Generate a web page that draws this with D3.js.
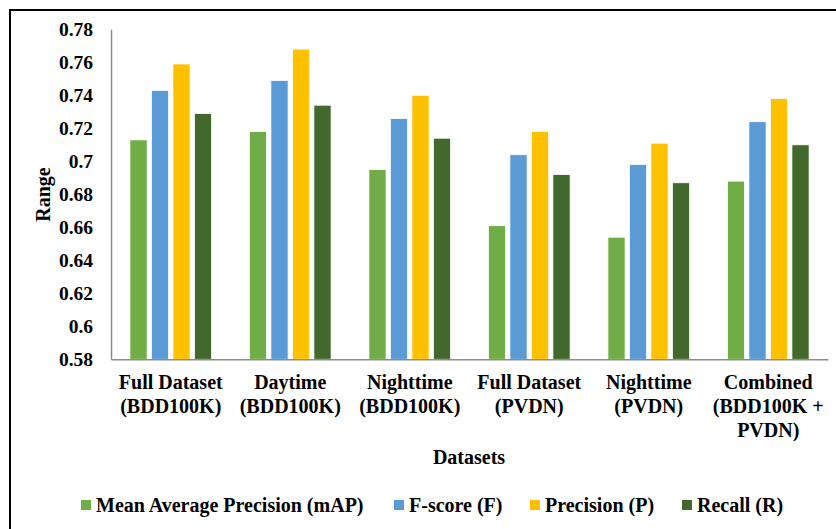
<!DOCTYPE html>
<html><head><meta charset="utf-8">
<script src="https://cdn.jsdelivr.net/npm/d3@7"></script>
<style>body{margin:0;background:#fff}svg{display:block}</style>
</head><body><svg id="c" width="836" height="529"></svg>
<script>
const categories = [["Full Dataset","(BDD100K)"],["Daytime","(BDD100K)"],["Nighttime","(BDD100K)"],["Full Dataset","(PVDN)"],["Nighttime","(PVDN)"],["Combined","(BDD100K +","PVDN)"]];
const seriesNames = ["Mean Average Precision (mAP)","F-score (F)","Precision (P)","Recall (R)"];
const seriesColors = ["#70AD47","#5B9BD5","#FFC000","#43682B"];
const mAP = [0.713,0.718,0.695,0.661,0.654,0.688];
const fscore = [0.743,0.749,0.726,0.704,0.698,0.724];
const precision = [0.759,0.768,0.740,0.718,0.711,0.738];
const recall = [0.729,0.734,0.714,0.692,0.687,0.710];
const yTicks = [0.58,0.6,0.62,0.64,0.66,0.68,0.7,0.72,0.74,0.76,0.78];
const series = [mAP,fscore,precision,recall];

(function(){
const FONT = "'Liberation Serif', 'Times New Roman', Tinos, 'DejaVu Serif', serif";
function st(sel,fs){ return sel.style("font-family",FONT).style("font-weight","700").style("font-size",(fs||20)+"px").attr("fill","#000"); }
const svg = d3.select("#c");
svg.append("rect").attr("x",10).attr("y",10).attr("width",840).attr("height",540).attr("fill","none").attr("stroke","#000").attr("stroke-width",2);

const pl=111, pr=828, pt=29.3, pb=359.3;
const y = d3.scaleLinear().domain([0.58,0.78]).range([pb,pt]);
const x0 = d3.scaleBand().domain(d3.range(categories.length)).range([pl,pr]).padding(0);
const x1 = d3.scaleBand().domain(d3.range(4)).range([-43,43]).paddingInner(0.2).paddingOuter(0.1);

const yAxis = svg.append("g").attr("transform",`translate(${pl},0)`).call(d3.axisLeft(y).tickValues(yTicks).tickSize(0).tickPadding(18).tickFormat(d=>String(+d.toFixed(2))));
yAxis.attr("font-family",null);
yAxis.select(".domain").attr("stroke","#8c8c8c").attr("stroke-width",1.5);
st(yAxis.selectAll("text"),19.5);

categories.forEach((c,i)=>{
  const cx = x0(i)+x0.bandwidth()/2;
  series.forEach((s,j)=>{
    svg.append("rect").attr("x",cx+x1(j)).attr("width",x1.bandwidth())
      .attr("y",y(s[i])).attr("height",y(0.58)-y(s[i]))
      .attr("fill",seriesColors[j]).attr("stroke","#fff").attr("stroke-width",0.8);
  });
});

const xAxis = svg.append("g").attr("transform",`translate(0,${pb})`).call(d3.axisBottom(x0).tickSize(0).tickFormat(""));
xAxis.select(".domain").attr("stroke","#8c8c8c").attr("stroke-width",1.5);
categories.forEach((c,i)=>{
  const cx = x0(i)+x0.bandwidth()/2;
  const t = st(svg.append("text").attr("text-anchor","middle"));
  c.forEach((line,k)=>{
    t.append("tspan").attr("x",cx).attr("y",389+k*24).text(line);
  });
});

st(svg.append("text").attr("transform","translate(50,194.5) rotate(-90)").attr("text-anchor","middle")).text("Range");
st(svg.append("text").attr("x",469).attr("y",464).attr("text-anchor","middle")).text("Datasets");

const legendX = [81,394,530,682];
seriesNames.forEach((n,j)=>{
  svg.append("rect").attr("x",legendX[j]).attr("y",500).attr("width",10).attr("height",10).attr("fill",seriesColors[j]);
  st(svg.append("text").attr("x",legendX[j]+15).attr("y",511.5)).text(n);
});
})();
</script></body></html>
